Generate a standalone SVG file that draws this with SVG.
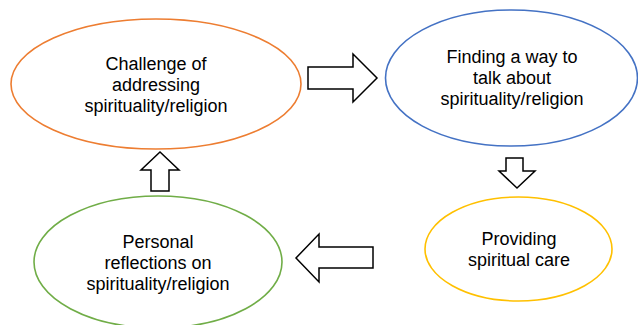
<svg xmlns="http://www.w3.org/2000/svg" width="638" height="325" viewBox="0 0 638 325">
<style>
.node{fill:#fff;stroke-width:1.6}
.lbl{font-family:"Liberation Sans",Arial,sans-serif;font-size:18px;fill:#000;text-anchor:middle}
.arr{fill:#fff;stroke:#000;stroke-width:1.5;stroke-linejoin:miter}
</style>
<rect width="638" height="325" fill="#fff"/>
<g id="challenge">
<ellipse class="node" cx="156" cy="84" rx="145" ry="65" stroke="#ED7D31"/>
<text class="lbl" x="156" y="70">Challenge of</text>
<text class="lbl" x="156" y="91">addressing</text>
<text class="lbl" x="156" y="112">spirituality/religion</text>
</g>
<g id="finding">
<ellipse class="node" cx="511.5" cy="78" rx="126" ry="68" stroke="#4472C4"/>
<text class="lbl" x="512" y="63">Finding a way to</text>
<text class="lbl" x="512" y="84">talk about</text>
<text class="lbl" x="512" y="105">spirituality/religion</text>
</g>
<g id="providing">
<ellipse class="node" cx="518.5" cy="249" rx="93.5" ry="52" stroke="#FFC000"/>
<text class="lbl" x="519" y="245">Providing</text>
<text class="lbl" x="519" y="266">spiritual care</text>
</g>
<g id="personal">
<ellipse class="node" cx="158" cy="262" rx="124" ry="66" stroke="#70AD47"/>
<text class="lbl" x="158" y="248">Personal</text>
<text class="lbl" x="158" y="269">reflections on</text>
<text class="lbl" x="158" y="290">spirituality/religion</text>
</g>
<g id="connectors">
<polygon class="arr" points="308,67 353,67 353,54 377,78 353,102 353,89 308,89"/>
<polygon class="arr" points="506,158 523,158 523,171 535,171 517,188 499,171 506,171"/>
<polygon class="arr" points="373,247 319,247 319,234 296,258 319,282 319,268 373,268"/>
<polygon class="arr" points="151,191 151,170 141,170 160,152 179,170 169,170 169,191"/>
</g>
</svg>
